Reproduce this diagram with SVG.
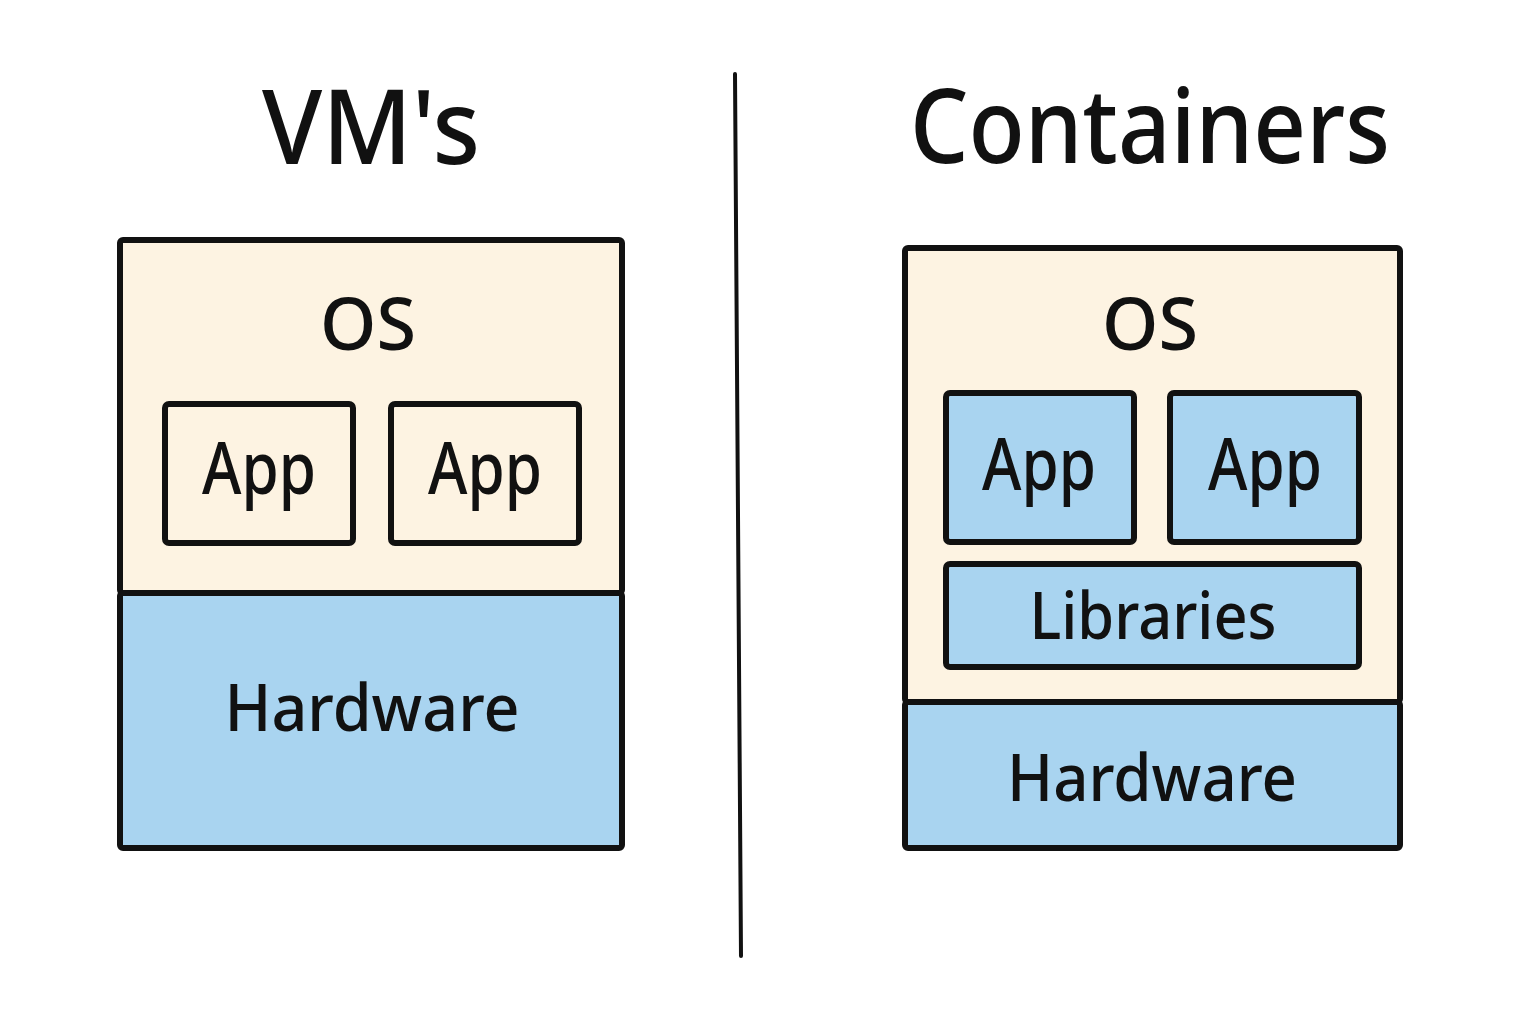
<svg xmlns="http://www.w3.org/2000/svg" width="1536" height="1024" viewBox="0 0 1536 1024">
<style>
.box{stroke:#111;stroke-width:6;stroke-linejoin:round}
.cream{fill:#FDF3E2}
.blue{fill:#A9D4F0}
.t{font-family:"Noto Sans","DejaVu Sans",sans-serif;fill:#111;text-anchor:middle;font-weight:500}
.title{font-size:104px}
.lbl{font-size:72px}
.hw{font-size:66px}
</style>
<rect width="1536" height="1024" fill="#fff"/>
<g id="title-vms"><text class="t title" x="371" y="164" textLength="218" lengthAdjust="spacingAndGlyphs">VM's</text></g>
<g id="title-containers"><text class="t title" x="1150" y="163" textLength="480" lengthAdjust="spacingAndGlyphs">Containers</text></g>
<g id="connectors">
<path d="M735 74 Q738 500 741 956" fill="none" stroke="#111" stroke-width="4" stroke-linecap="round"/>
</g>
<g id="vm-os">
<rect class="box cream" x="120" y="240" width="502" height="353" rx="3"/>
<text class="t lbl" x="368" y="350">OS</text>
</g>
<g id="vm-hardware">
<rect class="box blue" x="120" y="593" width="502" height="255" rx="3"/>
<text class="t hw" x="372" y="731" textLength="295" lengthAdjust="spacingAndGlyphs">Hardware</text>
</g>
<g id="vm-app1">
<rect class="box cream" x="165" y="404" width="188" height="139" rx="4"/>
<text class="t lbl" x="259" y="494" textLength="114" lengthAdjust="spacingAndGlyphs">App</text>
</g>
<g id="vm-app2">
<rect class="box cream" x="391" y="404" width="188" height="139" rx="4"/>
<text class="t lbl" x="485" y="494" textLength="114" lengthAdjust="spacingAndGlyphs">App</text>
</g>
<g id="ct-os">
<rect class="box cream" x="905" y="248" width="495" height="454" rx="3"/>
<text class="t lbl" x="1150" y="350">OS</text>
</g>
<g id="ct-hardware">
<rect class="box blue" x="905" y="702" width="495" height="146" rx="3"/>
<text class="t hw" x="1152" y="801" textLength="290" lengthAdjust="spacingAndGlyphs">Hardware</text>
</g>
<g id="ct-app1">
<rect class="box blue" x="946" y="393" width="188" height="149" rx="4"/>
<text class="t lbl" x="1039" y="490" textLength="114" lengthAdjust="spacingAndGlyphs">App</text>
</g>
<g id="ct-app2">
<rect class="box blue" x="1170" y="393" width="189" height="149" rx="4"/>
<text class="t lbl" x="1265" y="490" textLength="114" lengthAdjust="spacingAndGlyphs">App</text>
</g>
<g id="ct-libraries">
<rect class="box blue" x="946" y="564" width="413" height="103" rx="4"/>
<text class="t hw" x="1153" y="639" textLength="247" lengthAdjust="spacingAndGlyphs">Libraries</text>
</g>
</svg>
